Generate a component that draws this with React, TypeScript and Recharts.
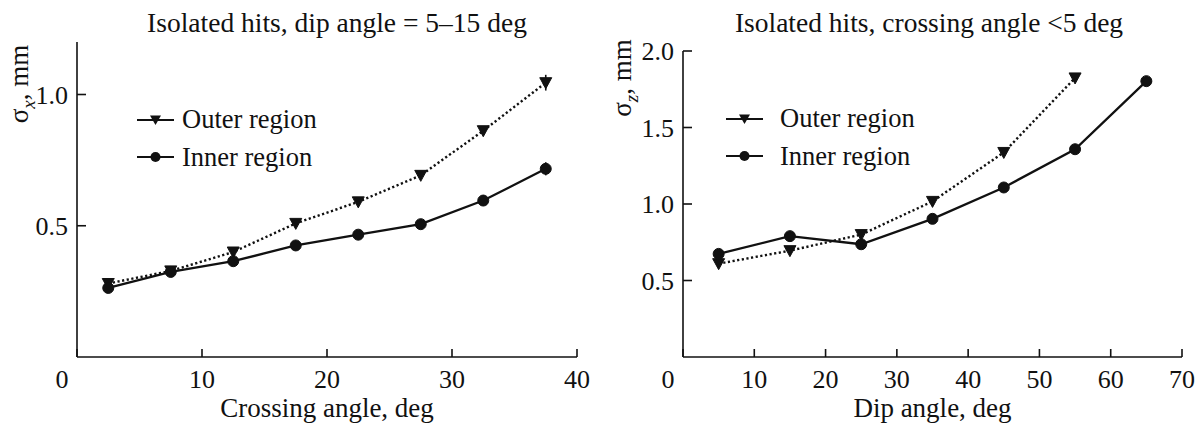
import { LineChart, Line, XAxis, YAxis, Legend, ErrorBar } from 'recharts';

// left panel: sigma_x vs crossing angle (dip angle 5-15 deg)
const crossingAngle = [2.5, 7.5, 12.5, 17.5, 22.5, 27.5, 32.5, 37.5];
const outerSigmaX = [0.28, 0.328, 0.4, 0.509, 0.591, 0.692, 0.862, 1.045];
const innerSigmaX = [0.263, 0.324, 0.365, 0.425, 0.466, 0.506, 0.596, 0.717];
const outerErrX = [0.01, 0.01, 0.01, 0.01, 0.01, 0.01, 0.015, 0.03];
const innerErrX = [0.01, 0.01, 0.01, 0.01, 0.01, 0.01, 0.02, 0.025];

// right panel: sigma_z vs dip angle (crossing angle < 5 deg)
const dipAngle = [5, 15, 25, 35, 45, 55, 65];
const outerSigmaZ = [0.61, 0.695, 0.8, 1.017, 1.337, 1.824];
const innerSigmaZ = [0.674, 0.79, 0.737, 0.903, 1.108, 1.358, 1.803];

const xTicksLeft = [0, 10, 20, 30, 40];
const yTicksLeft = [0.5, 1.0];
const xTicksRight = [0, 10, 20, 30, 40, 50, 60, 70];
const yTicksRight = [0.5, 1.0, 1.5, 2.0];

const FONT = "'Liberation Serif', 'Times New Roman', serif";
const INK = '#111';

const leftData = crossingAngle.map((a, i) => ({
  angle: a,
  outer: outerSigmaX[i],
  inner: innerSigmaX[i],
  outerErr: outerErrX[i],
  innerErr: innerErrX[i],
}));

const rightData = dipAngle.map((a, i) => ({
  angle: a,
  outer: outerSigmaZ[i] ?? null,
  inner: innerSigmaZ[i],
}));

const TriangleDot = (props: any) => {
  const { cx, cy } = props;
  if (cx == null || cy == null) return null;
  return (
    <path
      d={`M${cx - 6},${cy - 5} L${cx + 6},${cy - 5} L${cx},${cy + 6} Z`}
      fill={INK}
      stroke={INK}
    />
  );
};

const CircleDot = (props: any) => {
  const { cx, cy } = props;
  if (cx == null || cy == null) return null;
  return <circle cx={cx} cy={cy} r={5.5} fill={INK} stroke={INK} />;
};

const XTick = (props: any) => {
  const { x, y, payload } = props;
  // the "0" label sits left of the corner in the original
  const tx = payload.value === 0 ? x - 15 : x;
  return (
    <text x={tx} y={y} dy={31} textAnchor="middle" fontSize={26} fontFamily={FONT} fill={INK}>
      {payload.value}
    </text>
  );
};

const YTick = (props: any) => {
  const { x, y, payload } = props;
  return (
    <text x={x} y={y} dy="0.35em" textAnchor="end" fontSize={26} fontFamily={FONT} fill={INK}>
      {Number(payload.value).toFixed(1)}
    </text>
  );
};

const makeLegend = (gap: number) => () => {
  const items = [
    { label: 'Outer region', kind: 'tri' },
    { label: 'Inner region', kind: 'dot' },
  ];
  return (
    <div style={{ fontFamily: FONT, fontSize: 26.5, color: INK }}>
      {items.map((it) => (
        <div key={it.label} style={{ display: 'flex', alignItems: 'center', height: 37.4 }}>
          <svg width={37} height={14} style={{ marginRight: gap }}>
            <line x1={0} y1={7} x2={37} y2={7} stroke={INK} strokeWidth={2.2} />
            {it.kind === 'tri' ? (
              <path d="M13,2.5 L24,2.5 L18.5,12 Z" fill={INK} />
            ) : (
              <circle cx={18.5} cy={7} r={5} fill={INK} />
            )}
          </svg>
          <span style={{ lineHeight: 1 }}>{it.label}</span>
        </div>
      ))}
    </div>
  );
};

const axisProps = {
  stroke: INK,
  strokeWidth: 1.6,
  tickLine: { stroke: INK, strokeWidth: 1.6 },
};

interface PanelProps {
  data: any[];
  width: number;
  margin: { top: number; right: number; bottom: number; left: number };
  xDomain: [number, number];
  xTicks: number[];
  yDomain: [number, number];
  yTicks: number[];
  xLabel: string;
  legendPos: { left: number; top: number };
  legendGap: number;
  errors?: boolean;
}

function Panel({ data, width, margin, xDomain, xTicks, yDomain, yTicks, xLabel, legendPos, legendGap, errors }: PanelProps) {
  return (
    <LineChart width={width} height={426} data={data} margin={margin}>
      <XAxis
        type="number"
        dataKey="angle"
        domain={xDomain}
        ticks={xTicks}
        height={69}
        tickSize={-8}
        tickMargin={8}
        tick={<XTick />}
        {...axisProps}
        label={{ value: xLabel, position: 'insideBottom', offset: 9, fill: INK, fontSize: 27, fontFamily: FONT }}
      />
      <YAxis
        type="number"
        domain={yDomain}
        ticks={yTicks}
        width={60}
        tickSize={-9}
        tickMargin={18}
        tick={<YTick />}
        {...axisProps}
      />
      {/* centre/middle so the legend does not eat into the plot margins */}
      <Legend
        layout="vertical"
        verticalAlign="middle"
        align="center"
        content={makeLegend(legendGap)}
        wrapperStyle={{ left: legendPos.left, top: legendPos.top, width: 'auto' }}
      />
      <Line
        type="linear"
        dataKey="outer"
        name="Outer region"
        stroke={INK}
        strokeWidth={2.4}
        strokeDasharray="2.2 2.5"
        dot={<TriangleDot />}
        isAnimationActive={false}
        connectNulls={false}
      >
        {errors && <ErrorBar dataKey="outerErr" width={0} stroke={INK} strokeWidth={1.6} direction="y" />}
      </Line>
      <Line
        type="linear"
        dataKey="inner"
        name="Inner region"
        stroke={INK}
        strokeWidth={2.3}
        dot={<CircleDot />}
        isAnimationActive={false}
      >
        {errors && <ErrorBar dataKey="innerErr" width={0} stroke={INK} strokeWidth={1.6} direction="y" />}
      </Line>
    </LineChart>
  );
}

const titleStyle = (cx: number): React.CSSProperties => ({
  position: 'absolute',
  left: cx,
  top: 9,
  transform: 'translateX(-50%)',
  whiteSpace: 'nowrap',
  fontFamily: FONT,
  fontSize: 27.5,
  lineHeight: 1,
  color: INK,
});

const yLabelStyle = (cx: number, cy: number): React.CSSProperties => ({
  position: 'absolute',
  left: cx,
  top: cy,
  transform: 'translate(-50%, -50%) rotate(-90deg)',
  whiteSpace: 'nowrap',
  fontFamily: FONT,
  fontSize: 27,
  lineHeight: 1,
  color: INK,
});

export default function App() {
  return (
    <div style={{ position: 'absolute', left: 0, top: 0, width: 1203, height: 426, background: '#fff', overflow: 'hidden' }}>
      <div style={{ position: 'absolute', left: 0, top: 0 }}>
        <Panel
          data={leftData}
          width={600}
          margin={{ top: 42, right: 23, bottom: 0, left: 17 }}
          xDomain={[0, 40]}
          xTicks={xTicksLeft}
          yDomain={[0, 1.2]}
          yTicks={yTicksLeft}
          xLabel="Crossing angle, deg"
          legendPos={{ left: 137, top: 101 }}
          legendGap={8}
          errors
        />
      </div>
      <div style={{ position: 'absolute', left: 600, top: 0 }}>
        <Panel
          data={rightData}
          width={603}
          margin={{ top: 51, right: 21, bottom: 0, left: 23 }}
          xDomain={[0, 70]}
          xTicks={xTicksRight}
          yDomain={[0, 2]}
          yTicks={yTicksRight}
          xLabel="Dip angle, deg"
          legendPos={{ left: 126, top: 100 }}
          legendGap={17}
        />
      </div>
      <div style={titleStyle(337)}>Isolated hits, dip angle = 5–15 deg</div>
      <div style={titleStyle(929)}>Isolated hits, crossing angle &lt;5 deg</div>
      <div style={yLabelStyle(22, 84)}>
        σ<sub style={{ fontStyle: 'italic', fontSize: 19 }}>x</sub>, mm
      </div>
      <div style={yLabelStyle(625, 78)}>
        σ<sub style={{ fontStyle: 'italic', fontSize: 19 }}>z</sub>, mm
      </div>
    </div>
  );
}
